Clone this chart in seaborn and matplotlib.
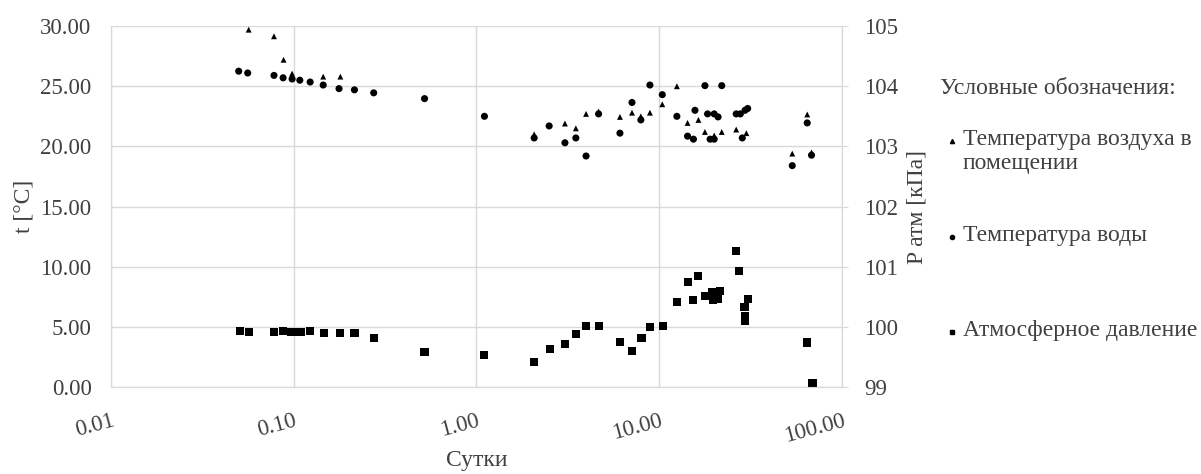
import numpy as np
import pandas as pd
import matplotlib
matplotlib.use("Agg")
import matplotlib.pyplot as plt
import seaborn as sns
from matplotlib.lines import Line2D
from matplotlib.ticker import FuncFormatter

# air temperature (triangles)
air_days = [0.0567, 0.078, 0.088, 0.098, 0.145, 0.18, 2.07, 3.05, 3.5, 3.98, 4.66,
            6.1, 7.1, 7.94, 8.9, 10.4, 12.5, 14.3, 16.4, 17.8, 20.0, 22.0, 26.4,
            30.0, 53.5, 64.6, 68.2]
air_t = [29.7, 29.15, 27.2, 26.05, 25.8, 25.8, 21.0, 21.9, 21.5, 22.7, 22.9,
         22.45, 22.8, 22.5, 22.8, 23.5, 25.0, 21.95, 22.2, 21.2, 20.9, 21.2, 21.4,
         21.1, 19.4, 22.65, 19.5]

# water temperature (circles)
water_days = [0.050, 0.056, 0.078, 0.0875, 0.098, 0.108, 0.123, 0.145, 0.177, 0.215,
              0.274, 0.52, 1.106, 2.07, 2.5, 3.05, 3.5, 3.98, 4.66, 6.1, 7.1, 7.94,
              8.9, 10.4, 12.5, 14.3, 15.4, 15.7, 17.8, 18.4, 19.0, 20.0, 20.0, 21.0,
              22.0, 26.4, 27.8, 28.5, 29.5, 30.5, 53.5, 64.6, 68.2]
water_t = [26.25, 26.1, 25.9, 25.7, 25.6, 25.5, 25.35, 25.1, 24.8, 24.7,
           24.45, 23.97, 22.5, 20.7, 21.7, 20.3, 20.7, 19.2, 22.7, 21.1, 23.65, 22.2,
           25.1, 24.3, 22.5, 20.85, 20.6, 23.0, 25.05, 22.7, 20.6, 22.7, 20.6, 22.45,
           25.05, 22.7, 22.7, 20.7, 23.0, 23.15, 18.4, 21.95, 19.27]

# atmospheric pressure (squares), kPa
p_days = [0.0507, 0.0567, 0.078, 0.0875, 0.097, 0.103, 0.110, 0.123, 0.146, 0.179,
          0.215, 0.274, 0.52, 1.106, 2.07, 2.52, 3.05, 3.5, 3.98, 4.66, 6.1, 7.1,
          8.0, 8.9, 10.5, 12.5, 14.4, 15.4, 16.3, 17.9, 19.4, 19.8, 20.5, 21.5,
          21.0, 26.4, 27.5, 30.5, 29.3, 29.6, 29.6, 64.6, 69.0]
p_kpa = [99.935, 99.92, 99.92, 99.93, 99.92, 99.92, 99.92, 99.93, 99.90, 99.90,
         99.90, 99.81, 99.58, 99.53, 99.41, 99.63, 99.71, 99.88, 100.01, 100.01, 99.75, 99.60,
         99.81, 100.0, 100.01, 100.42, 100.75, 100.45, 100.84, 100.51, 100.58, 100.45, 100.55, 100.6,
         100.47, 101.26, 100.93, 100.46, 100.33, 100.18, 100.10, 99.74, 99.06]

legend_title = "Условные обозначения:"
legend_labels = ["Температура воздуха в\nпомещении", "Температура воды", "Атмосферное давление"]

sns.set_style("white")
plt.rcParams['font.family'] = ['Liberation Serif', 'DejaVu Serif']
fs = 16.5
fs_leg = 17
grid_c = "#d9d9d9"
txt_c = "#404040"

fig = plt.figure(figsize=(12.01, 4.74), dpi=100)
ax = fig.add_axes([0.0924, 0.1835, 0.6086, 0.7615])
ax2 = ax.twinx()

sns.scatterplot(x=air_days, y=air_t, marker="^", s=18, color="black",
                edgecolor="none", ax=ax)
sns.scatterplot(x=water_days, y=water_t, marker="o", s=26, color="black",
                edgecolor="none", ax=ax)
sns.scatterplot(x=p_days, y=p_kpa, marker="s", s=34, color="black",
                edgecolor="none", ax=ax2)

ax.set_xscale("log")
ax.set_xlim(0.01, 100)
ax.set_ylim(0, 30)
ax2.set_ylim(99, 105)
ax.set_xticks([0.01, 0.1, 1, 10, 100])
ax.xaxis.set_major_formatter(FuncFormatter(lambda v, p: "%.2f" % v))
ax.xaxis.set_minor_locator(matplotlib.ticker.NullLocator())
ax.set_yticks(np.arange(0, 31, 5))
ax.yaxis.set_major_formatter(FuncFormatter(lambda v, p: "%.2f" % v))
ax2.set_yticks(np.arange(99, 106, 1))

ax.grid(True, color=grid_c, linewidth=1)
ax.set_axisbelow(True)
for a in (ax, ax2):
    for s in a.spines.values():
        s.set_color(grid_c)
    a.spines['top'].set_visible(False)

ax.tick_params(axis='both', length=0, labelsize=fs, labelcolor=txt_c)
ax.tick_params(axis='y', pad=14)
ax2.tick_params(axis='y', length=4, color=grid_c, labelsize=fs, labelcolor=txt_c, pad=12)
plt.setp(ax.get_xticklabels(), rotation=15, ha='right', rotation_mode='anchor')
ax.tick_params(axis='x', pad=17)

ax.set_xlabel("Сутки", fontsize=fs_leg, color=txt_c)
ax.xaxis.set_label_coords(0.5, -0.175)
ax.set_ylabel("t [°C]", fontsize=fs_leg, color=txt_c, labelpad=4)
ax2.set_ylabel("P атм [кПа]", fontsize=fs_leg, color=txt_c, labelpad=6)

# legend drawn by hand (uneven spacing as in the original)
W, H = 1201.0, 474.0
fig.text(940 / W, 1 - 88 / H, legend_title, fontsize=fs_leg, color=txt_c, va="center")
leg_y = [141, 237, 332]
leg_marks = [("^", 3.0), ("o", 3.0), ("s", 3.5)]
for yy, lab, (m, ms) in zip(leg_y, legend_labels, leg_marks):
    fig.add_artist(Line2D([952 / W], [1 - yy / H], marker=m, markersize=ms,
                          color="black", linestyle="none"))
    fig.text(963 / W, 1 - (yy - 12) / H, lab, fontsize=fs_leg, color=txt_c,
             va="top", linespacing=1.2)

fig.savefig("out.png", dpi=100)
